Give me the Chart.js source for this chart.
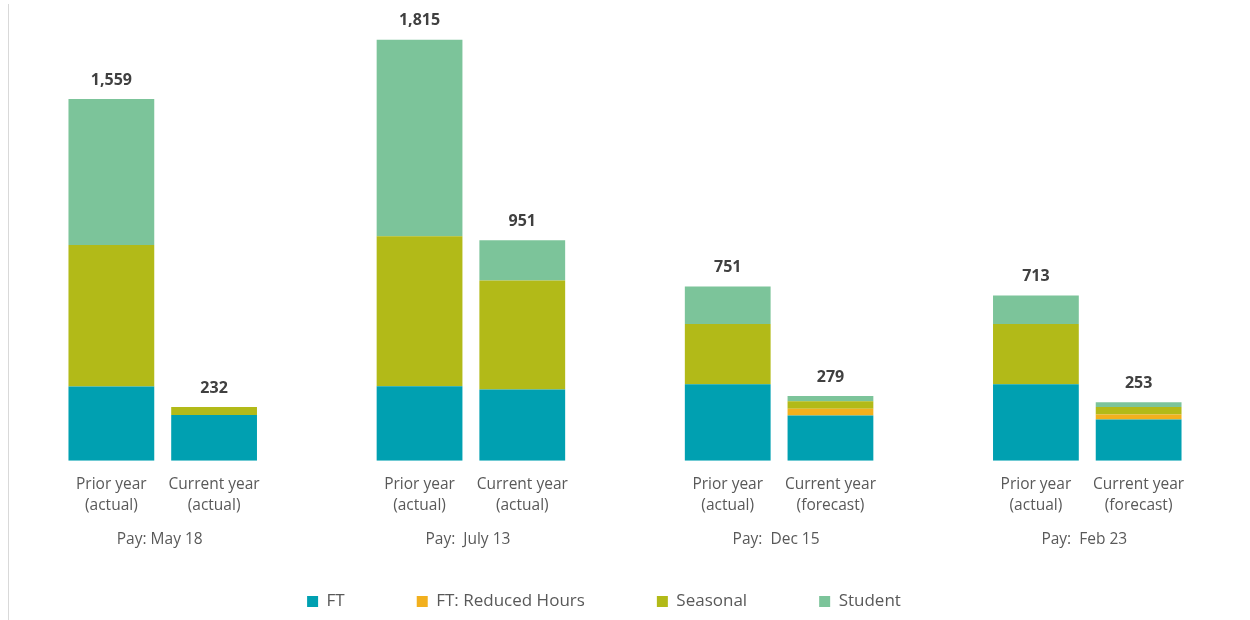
<!DOCTYPE html>
<html lang="en">
<head>
    <meta charset="UTF-8">
    <title>Headcount by pay period</title>
    <script src="https://cdn.jsdelivr.net/npm/chart.js"></script>
    <style>
        body { margin: 0; padding: 0; background: #fff; }
        .wrap { width: 1250px; height: 620px; position: relative; }
    </style>
</head>
<body>
<div class="wrap"><canvas id="chart"></canvas></div>

<script>
    // empty slots ('') keep the gap between the pay groups
    const categories = [
        ['Prior year', '(actual)'], ['Current year', '(actual)'], '',
        ['Prior year', '(actual)'], ['Current year', '(actual)'], '',
        ['Prior year', '(actual)'], ['Current year', '(forecast)'], '',
        ['Prior year', '(actual)'], ['Current year', '(forecast)']
    ];
    const groupLabels = ['Pay: May 18', 'Pay:  July 13', 'Pay:  Dec 15', 'Pay:  Feb 23'];
    const groupSlots = [[0, 1], [3, 4], [6, 7], [9, 10]];

    const ft       = [320, 198, null, 321, 307, null, 330, 195, null, 330, 178];
    const reduced  = [0,   0,   null, 0,   0,   null, 0,   29,  null, 0,   22];
    const seasonal = [610, 34,  null, 647, 470, null, 260, 33,  null, 260, 32];
    const student  = [629, 0,   null, 847, 174, null, 161, 22,  null, 123, 21];

    const textGrey = '#595959';
    const fontFamily = '"Open Sans", sans-serif';

    const totals = ft.map((v, i) => v === null ? null : v + reduced[i] + seasonal[i] + student[i]);

    const extras = {
        id: 'extras',
        afterLayout(chart) {
            // legend in the original sits a little left of centre
            chart.legend.left -= 21;
            chart.legend.right -= 21;
        },
        beforeDraw(chart) {
            const ctx = chart.ctx;
            ctx.save();
            ctx.strokeStyle = '#d9d9d9';
            ctx.lineWidth = 1;
            ctx.beginPath();
            ctx.moveTo(8.5, 4);
            ctx.lineTo(8.5, 620);
            ctx.stroke();
            ctx.restore();
        },
        afterDatasetsDraw(chart) {
            const ctx = chart.ctx;
            const x = chart.scales.x, y = chart.scales.y;
            ctx.save();
            ctx.textAlign = 'center';
            ctx.textBaseline = 'middle';
            // totals above bars
            ctx.fillStyle = '#404040';
            ctx.font = 'bold 16px ' + fontFamily;
            totals.forEach((t, i) => {
                if (t === null) return;
                ctx.fillText(t.toLocaleString('en-US'), x.getPixelForValue(i), y.getPixelForValue(t) - 19);
            });
            // pay group labels under the ticks
            ctx.fillStyle = textGrey;
            ctx.font = '15.5px ' + fontFamily;
            groupLabels.forEach((g, k) => {
                const [a, b] = groupSlots[k];
                const cx = (x.getPixelForValue(a) + x.getPixelForValue(b)) / 2;
                ctx.fillText(g, cx - 3, chart.chartArea.bottom + 79);
            });
            ctx.restore();
        }
    };

    const ctx = document.getElementById('chart').getContext('2d');
    new Chart(ctx, {
        type: 'bar',
        data: {
            labels: categories,
            datasets: [
                { label: 'FT', data: ft, backgroundColor: '#00a0b1' },
                { label: 'FT: Reduced Hours', data: reduced, backgroundColor: '#f2b01e' },
                { label: 'Seasonal', data: seasonal, backgroundColor: '#b2ba18' },
                { label: 'Student', data: student, backgroundColor: '#7cc49a' }
            ]
        },
        options: {
            responsive: true,
            maintainAspectRatio: false,
            animation: false,
            layout: { padding: { left: 60, right: 60, top: 20, bottom: 0 } },
            datasets: { bar: { barPercentage: 0.835, categoryPercentage: 1, borderWidth: 0 } },
            scales: {
                x: {
                    stacked: true,
                    grid: { display: false, drawTicks: false },
                    border: { display: false },
                    ticks: {
                        color: textGrey,
                        padding: 13,
                        autoSkip: false,
                        maxRotation: 0,
                        font: { family: fontFamily, size: 15.5, lineHeight: 1.36 }
                    },
                    afterFit: s => { s.height -= 8; }
                },
                y: {
                    stacked: true,
                    display: false,
                    min: 0,
                    max: 1900
                }
            },
            plugins: {
                legend: {
                    position: 'bottom',
                    labels: {
                        color: textGrey,
                        boxWidth: 11,
                        boxHeight: 11,
                        padding: 72,
                        font: { family: fontFamily, size: 17 }
                    }
                },
                tooltip: { enabled: false }
            }
        },
        plugins: [extras]
    });
</script>
</body>
</html>
